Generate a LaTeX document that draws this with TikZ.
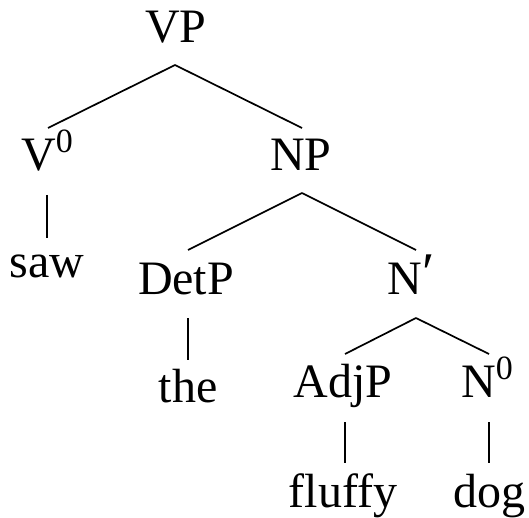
\documentclass[tikz,border=0pt]{standalone}
\usepackage{fontspec}
\setmainfont{Liberation Serif}
\newcommand{\supzero}{\raisebox{18pt}{\fontsize{34}{34}\selectfont 0}}
\newcommand{\bigprime}{\raisebox{2pt}{\fontsize{56}{56}\selectfont\char"2032}}
\begin{document}
\begin{tikzpicture}[x=1pt,y=-1pt,
  lab/.style={anchor=base,inner sep=0pt,font=\fontsize{48}{48}\selectfont},
  edge/.style={line width=1.7pt,black}]
\useasboundingbox (0,0) rectangle (529,518);
\node[lab] (VP) at (176,43) {VP};
\node[lab] (V0) at (47,171) {V\supzero};
\node[lab] (NP) at (301,171) {NP};
\node[lab] (saw) at (47,277) {saw};
\node[lab] (DetP) at (186,294) {DetP};
\node[lab] (Nbar) at (411,294) {N\bigprime};
\node[lab] (the) at (188,402) {the};
\node[lab] (AdjP) at (343,397) {AdjP};
\node[lab] (N0) at (487,397) {N\supzero};
\node[lab] (fluffy) at (343,507) {fluffy};
\node[lab] (dog) at (489,507) {dog};
% connectors
\draw[edge] ([shift={(-1,22)}]VP.base) -- ([shift={(1,-43)}]V0.base);
\draw[edge] ([shift={(-1,22)}]VP.base) -- ([shift={(1,-43)}]NP.base);
\draw[edge] ([shift={(0,24)}]V0.base) -- ([shift={(0,-39)}]saw.base);
\draw[edge] ([shift={(1,22)}]NP.base) -- ([shift={(2,-44)}]DetP.base);
\draw[edge] ([shift={(1,22)}]NP.base) -- ([shift={(5,-44)}]Nbar.base);
\draw[edge] ([shift={(2,24)}]DetP.base) -- ([shift={(0,-42)}]the.base);
\draw[edge] ([shift={(5,24)}]Nbar.base) -- ([shift={(2,-43)}]AdjP.base);
\draw[edge] ([shift={(5,24)}]Nbar.base) -- ([shift={(2,-43)}]N0.base);
\draw[edge] ([shift={(2,25)}]AdjP.base) -- ([shift={(2,-44)}]fluffy.base);
\draw[edge] ([shift={(2,25)}]N0.base) -- ([shift={(0,-44)}]dog.base);
\end{tikzpicture}
\end{document}
